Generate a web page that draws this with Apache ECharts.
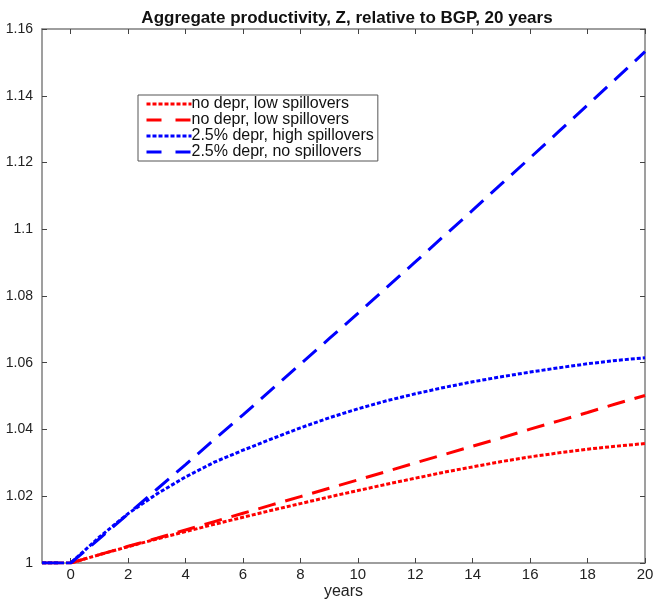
<!DOCTYPE html>
<html>
<head>
<meta charset="utf-8">
<script src="https://cdn.jsdelivr.net/npm/echarts@6/dist/echarts.min.js"></script>
<style>
  html, body { margin: 0; padding: 0; background: #fff; }
  #chart { width: 655px; height: 599px; }
</style>
</head>
<body>
<div id="chart"></div>
<script>
const years = [-1, 0, 1, 2, 3, 4, 5, 6, 7, 8, 9, 10, 11, 12, 13, 14, 15, 16, 17, 18, 19, 20];
const xTicks = [0, 2, 4, 6, 8, 10, 12, 14, 16, 18, 20];
const yTicks = [1, 1.02, 1.04, 1.06, 1.08, 1.1, 1.12, 1.14, 1.16];
const seriesNames = [
  'no depr, low spillovers',
  'no depr, low spillovers ',
  '2.5% depr, high spillovers',
  '2.5% depr, no spillovers'
];
const noDeprLowDotted = [1, 1, 1.0025, 1.0049, 1.0072, 1.0094, 1.0116, 1.0137, 1.0158, 1.0178, 1.0198, 1.0217,
  1.0236, 1.0254, 1.0272, 1.0288, 1.0304, 1.0318, 1.0330, 1.0341, 1.0350, 1.0358];
const noDeprLowDashed = [1, 1, 1.0025, 1.0050, 1.0074, 1.0099, 1.0124, 1.0149, 1.0174, 1.0199, 1.0224, 1.0249,
  1.0274, 1.0300, 1.0325, 1.0350, 1.0375, 1.0401, 1.0426, 1.0451, 1.0477, 1.0502];
const deprHighSpill = [1, 1, 1.0078, 1.0148, 1.0207, 1.0258, 1.0302, 1.0338, 1.0372, 1.0405, 1.0435, 1.0462,
  1.0486, 1.0507, 1.0526, 1.0543, 1.0558, 1.0572, 1.0585, 1.0597, 1.0607, 1.0615];
const deprNoSpill = [1, 1, 1.0073, 1.0147, 1.0221, 1.0295, 1.0370, 1.0444, 1.0520, 1.0596, 1.0672, 1.0748,
  1.0825, 1.0902, 1.0980, 1.1057, 1.1136, 1.1214, 1.1293, 1.1372, 1.1452, 1.1532];

const pairs = arr => years.map((x, i) => [x, arr[i]]);
const fontFam = '"Liberation Sans", Arial, Helvetica, sans-serif';
const axisGray = '#7f7f7f';
const fmtY = v => String(parseFloat(v.toFixed(2)));
const dotted = [4, 2];
const dashed = [18, 10];

const chart = echarts.init(document.getElementById('chart'));
const baseX = {
  type: 'value', min: -1, max: 20,
  axisLine: { show: true, onZero: false, lineStyle: { color: axisGray, width: 1.5 } },
  axisTick: { show: true, inside: true, length: 5, customValues: xTicks, lineStyle: { color: '#444', width: 1 } },
  splitLine: { show: false }
};
const baseY = {
  type: 'value', min: 1, max: 1.16, interval: 0.02,
  axisLine: { show: true, onZero: false, lineStyle: { color: axisGray, width: 1.5 } },
  axisTick: { show: true, inside: true, length: 5, lineStyle: { color: '#444', width: 1 } },
  splitLine: { show: false }
};
function mkSeries(name, data, color, dash) {
  return {
    name: name, type: 'line', data: pairs(data), symbol: 'none', smooth: false,
    xAxisIndex: 0, yAxisIndex: 0,
    lineStyle: { color: color, width: 3, type: dash },
    itemStyle: { color: color },
    emphasis: { disabled: true }
  };
}
chart.setOption({
  animation: false,
  backgroundColor: '#fff',
  title: {
    text: 'Aggregate productivity, Z, relative to BGP, 20 years',
    left: 342, top: 5, textAlign: 'center',
    textStyle: { fontFamily: fontFam, fontSize: 17, fontWeight: 'bold', color: '#111' }
  },
  grid: { left: 42, right: 10, top: 29, bottom: 36, containLabel: false, outerBoundsMode: 'none' },
  legend: {
    orient: 'vertical', left: 138, top: 95,
    itemWidth: 45, itemHeight: 15, itemGap: 0,
    padding: [1, 4, 1, 7],
    borderColor: '#555', borderWidth: 1, backgroundColor: '#fff',
    itemStyle: { opacity: 0 },
    lineStyle: { width: 3 },
    data: [
      { name: seriesNames[0] },
      { name: seriesNames[1], lineStyle: { width: 3, type: [15, 14] } },
      { name: seriesNames[2] },
      { name: seriesNames[3], lineStyle: { width: 3, type: [15, 14] } }
    ],
    formatter: n => n.trim(),
    textStyle: { fontFamily: fontFam, fontSize: 16, lineHeight: 15, color: '#111', padding: [0, 0, 0, -5] },
    selectedMode: false
  },
  xAxis: [
    Object.assign({}, baseX, {
      position: 'bottom',
      name: 'years', nameLocation: 'middle', nameGap: 21, nameMoveOverlap: false,
      nameTextStyle: { fontFamily: fontFam, fontSize: 16, color: '#222' },
      axisLabel: { show: true, customValues: xTicks, margin: 4,
        fontFamily: fontFam, fontSize: 15, color: '#222' }
    }),
    Object.assign({}, baseX, { position: 'top', axisLabel: { show: false } })
  ],
  yAxis: [
    Object.assign({}, baseY, {
      position: 'left',
      axisLabel: { show: true, formatter: fmtY, margin: 9,
        fontFamily: fontFam, fontSize: 14, color: '#222' }
    }),
    Object.assign({}, baseY, { position: 'right', axisLabel: { show: false } })
  ],
  series: [
    mkSeries(seriesNames[0], noDeprLowDotted, '#ff0000', dotted),
    mkSeries(seriesNames[1], noDeprLowDashed, '#ff0000', dashed),
    mkSeries(seriesNames[2], deprHighSpill, '#0000ff', dotted),
    mkSeries(seriesNames[3], deprNoSpill, '#0000ff', dashed)
  ]
});
</script>
</body>
</html>
